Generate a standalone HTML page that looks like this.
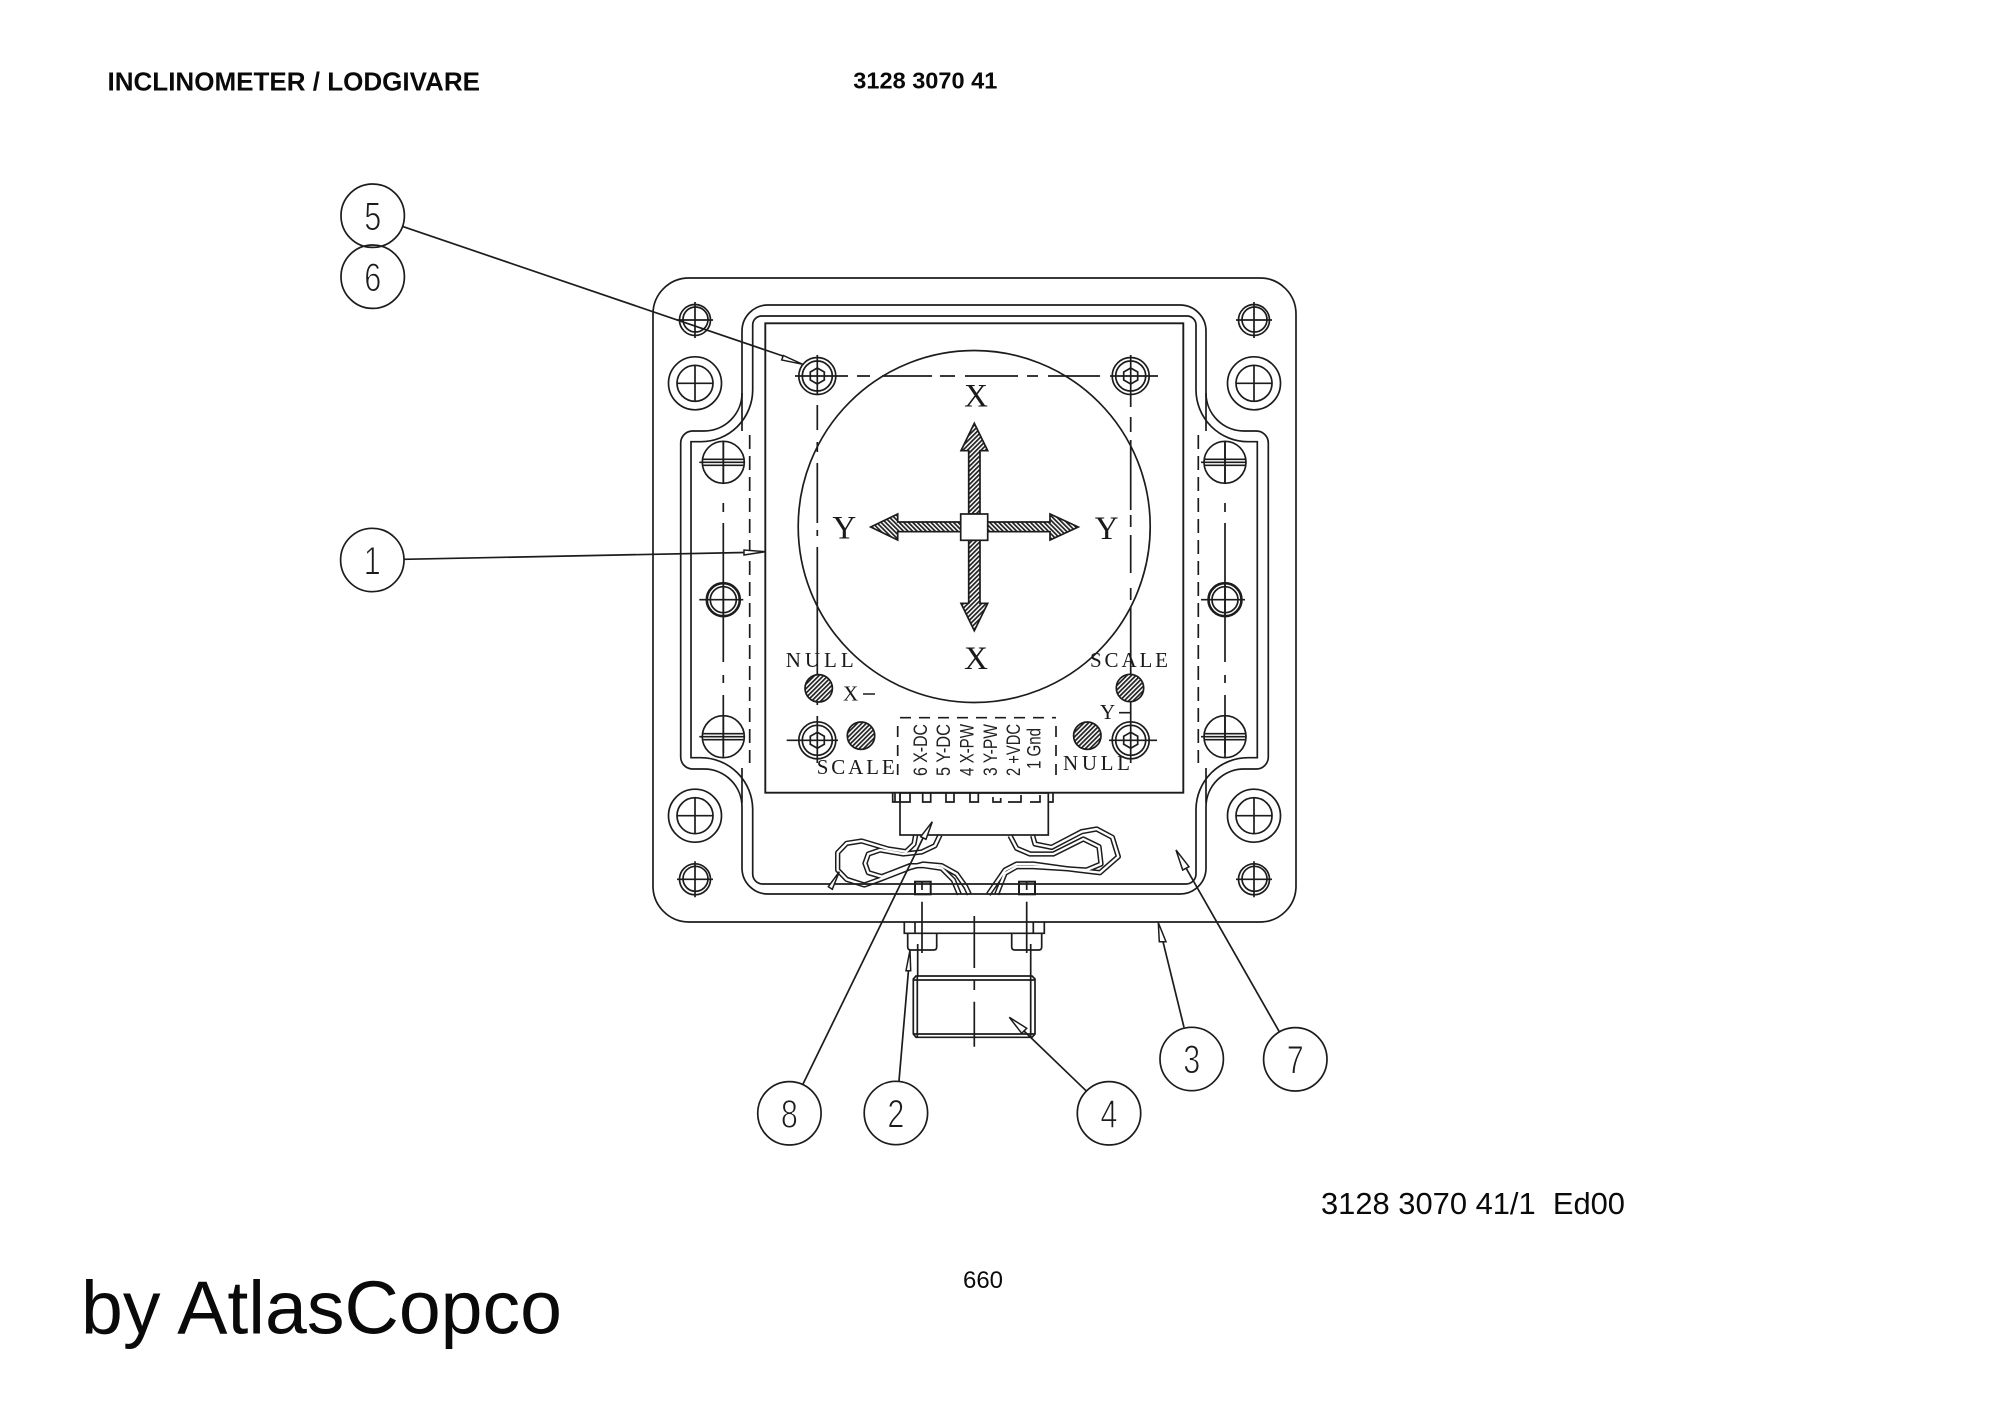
<!DOCTYPE html>
<html><head><meta charset="utf-8"><title>Inclinometer</title>
<style>html,body{margin:0;padding:0;background:#fff}svg{display:block}</style></head>
<body>
<svg xmlns="http://www.w3.org/2000/svg" width="2000" height="1414" viewBox="0 0 2000 1414">
<defs>
<pattern id="h1" width="3.2" height="3.2" patternUnits="userSpaceOnUse" patternTransform="rotate(45)"><rect width="3.2" height="3.2" fill="#fff"/><rect width="1.7" height="3.2" fill="#222"/></pattern>
<pattern id="h2" width="3.2" height="3.2" patternUnits="userSpaceOnUse" patternTransform="rotate(-45)"><rect width="3.2" height="3.2" fill="#fff"/><rect width="1.7" height="3.2" fill="#222"/></pattern>
<g id="small"><circle r="15.5"/><circle r="12.5" cx=".5" cy="-.5"/><path d="M-18 0H18M0-18V18"/></g>
<g id="washer"><circle r="26.5"/><circle r="18"/><path d="M-18 0H18M0-18V18"/></g>
<g id="slot"><circle r="21"/><path d="M0-21V21M-24 0H21M-20-3H20M-20 3H20"/></g>
<g id="ring"><circle r="16.5" stroke-width="2.6"/><circle r="13"/><path d="M-24 0H20M0-17V17"/></g>
<g id="hex"><circle r="18.5"/><circle r="15"/><path d="M0-8L7-4V4L0 8L-7 4V-4Z"/></g>
</defs>
<rect width="2000" height="1414" fill="#fff"/>

<g font-family="'Liberation Sans',sans-serif" fill="#0a0a0a">
<text x="107.5" y="90.7" font-size="26" font-weight="700" textLength="372.5" lengthAdjust="spacingAndGlyphs">INCLINOMETER / LODGIVARE</text>
<text x="853.3" y="88.3" font-size="23" font-weight="700" textLength="144" lengthAdjust="spacingAndGlyphs">3128 3070 41</text>
<text x="1321" y="1214" font-size="31" xml:space="preserve" textLength="304" lengthAdjust="spacingAndGlyphs">3128 3070 41/1  Ed00</text>
<text x="963" y="1288" font-size="24" textLength="40" lengthAdjust="spacingAndGlyphs">660</text>
<text x="81" y="1333.3" font-size="75" textLength="481" lengthAdjust="spacingAndGlyphs">by AtlasCopco</text>
</g>

<!-- wires -->
<g fill="none" stroke-linejoin="round">
<g transform="translate(800 700) scale(.33333)">
<g stroke="#1c1c1c" stroke-width="16">
<polyline points="347,405 342,432 318,455 265,447 185,423 140,430 113,458 113,510 140,538 193,555 240,538 330,503 370,492 425,497 470,522 497,560 508,583"/>
<polyline points="420,405 405,437 365,456 310,462 240,450 205,462 195,490 205,518 245,530 330,497 370,497 425,505 460,540 478,583"/>
</g>
<g stroke="#fff" stroke-width="7">
<polyline points="347,405 342,432 318,455 265,447 185,423 140,430 113,458 113,510 140,538 193,555 240,538 330,503 370,492 425,497 470,522 497,560 508,583"/>
<polyline points="420,405 405,437 365,456 310,462 240,450 205,462 195,490 205,518 245,530 330,497 370,497 425,505 460,540 478,583"/>
</g>
</g>
<g transform="translate(1000 640) scale(.33333)">
<g stroke="#1c1c1c" stroke-width="16">
<polyline points="30,587 50,625 90,642 160,642 250,597 297,620 303,672 260,690 100,680 50,680 15,700 -10,763"/>
<polyline points="98,587 105,612 155,622 245,575 290,567 337,592 355,650 300,698 230,690 100,672 50,672 15,690 -35,763"/>
</g>
<g stroke="#fff" stroke-width="7">
<polyline points="30,587 50,625 90,642 160,642 250,597 297,620 303,672 260,690 100,680 50,680 15,700 -10,763"/>
<polyline points="98,587 105,612 155,622 245,575 290,567 337,592 355,650 300,698 230,690 100,672 50,672 15,690 -35,763"/>
</g>
</g>
</g>

<g fill="none" stroke="#1c1c1c" stroke-width="1.7">
<!-- outer body -->
<rect x="653" y="278" width="643" height="644" rx="36"/>
<path d="M768,305H1180A26,26 0 0 1 1206,331V393A38,38 0 0 0 1244,431H1256A12,12 0 0 1 1268.3,443V757A12,12 0 0 1 1256,769H1244A38,38 0 0 0 1206,807V868A26,26 0 0 1 1180,894H768A26,26 0 0 1 742,868V807A38,38 0 0 0 704,769H692A12,12 0 0 1 680.7,757V443A12,12 0 0 1 692,431H704A38,38 0 0 0 742,393V331A26,26 0 0 1 768,305Z"/>
<path d="M762,316H1187A9,9 0 0 1 1196,325V390A52,52 0 0 0 1248,441.7H1257.3V757.7H1248A52,52 0 0 0 1196,809V874A10,10 0 0 1 1186,884H762A10,10 0 0 1 752.7,874V809A52,52 0 0 0 701,757.7H691V441.7H701A52,52 0 0 0 752.7,390V325A9,9 0 0 1 762,316Z"/>
<path d="M742,393V431M1206,393V431M742,768V803M1206,768V803"/>
<!-- PCB -->
<rect x="765.3" y="323.3" width="418" height="469.4" stroke-width="1.9"/>
<circle cx="974.2" cy="526.5" r="176"/>

<!-- center lines -->
<path d="M795,376H848M857,376H870M882,376H932M940,376H955M965,376H1018M1027,376H1038M1048,376H1100M1110,376H1158"/>
<path d="M817.3,355V395M817.3,405V430M817.3,442V452M817.3,463V523M817.3,530V536M817.3,547V705M817.3,716V763"/>
<path d="M1130.7,355V407M1130.7,417V432M1130.7,440V510M1130.7,515V527M1130.7,535V573M1130.7,588V600M1130.7,607V763"/>
<path d="M723.3,441V483M723.3,503V512M723.3,523V622M723.3,622V662M723.3,675V683M723.3,695V753"/>
<path d="M1225,441V483M1225,503V512M1225,523V622M1225,622V662M1225,675V683M1225,695V753"/>
<path d="M749.7,435V763M1198.3,435V763" stroke-dasharray="14 7"/>
<path d="M786.7,740.3H838M1109,740.3H1157"/>

<!-- fasteners -->
<use href="#small" x="695" y="320"/><use href="#small" x="1254" y="320"/>
<use href="#small" x="695" y="879.3"/><use href="#small" x="1254" y="879.3"/>
<use href="#washer" x="695" y="383.3"/><use href="#washer" x="1254" y="383.3"/>
<use href="#washer" x="695" y="815.7"/><use href="#washer" x="1254" y="815.7"/>
<use href="#slot" x="723.3" y="462.3"/><use href="#slot" x="1225" y="462.3"/>
<use href="#slot" x="723.3" y="736.7"/><use href="#slot" x="1225" y="736.7"/>
<use href="#ring" x="723.3" y="599.7"/><use href="#ring" x="1225" y="599.7"/>
<use href="#hex" x="817.3" y="376"/><use href="#hex" x="1130.7" y="376"/>
<use href="#hex" x="817.3" y="740.3"/><use href="#hex" x="1130.7" y="740.3"/>

<!-- connector -->
<rect x="900" y="793" width="148.3" height="42"/>
<path d="M892.7,793V802H910V793M895,793V802M900,793V802M922.7,793V802H930.7V793M946,793V802H954V793M970,793V802H978.3V793M993,797V802H1000.7V798M1008,802H1021V795M1030,802H1040V795M1048,802H1053V793"/>
<path d="M900,717.7H1056M897.7,726V780M1056,726V783" stroke-dasharray="11 8"/>

<!-- ports -->
<rect x="915" y="881.7" width="15.7" height="12.6" stroke-width="2"/>
<rect x="1019" y="881.7" width="16" height="12.6" stroke-width="2"/>
<path d="M922,881.7V890M1026.7,881.7V890"/>
<path d="M922,901.7V953M1026.7,901.7V953"/>
<path d="M974.3,916V968M974.3,980V990M974.3,1001.7V1046.7"/>

<!-- flange & fitting -->
<path d="M904.3,922V933.3H1044.3V922M915,922V933.3M1033.3,922V933.3"/>
<path d="M907.7,933.3V947Q907.7,950 911,950H933.7Q936.7,950 936.7,947V933.3"/>
<path d="M1011.7,933.3V947Q1011.7,950 1015,950H1038.7Q1041.7,950 1041.7,947V933.3"/>
<path d="M917.7,944V976M1030.7,944V976"/>
<path d="M916,976H1032L1035,979V1034L1032,1037.3H916L913.3,1034V979Z"/>
<path d="M917.3,976V1037.3M1030.7,976V1037.3M913.3,980H1035M913.3,1034H1035"/>
</g>

<!-- large arrows -->
<g stroke="#1c1c1c" stroke-width="1.7">
<path d="M974.3,423.3L987.7,450.7H980V514H968.7V450.7H961Z" fill="url(#h1)"/>
<path d="M974.3,630.7L987.7,603.3H980V540H968.7V603.3H961Z" fill="url(#h1)"/>
<path d="M870.7,527L897.7,514V522H961V531.7H897.7V540Z" fill="url(#h2)"/>
<path d="M1078.3,527L1050,514V522H987.7V531.7H1050V540Z" fill="url(#h2)"/>
<rect x="960.7" y="514" width="27" height="26.3" fill="#fff"/>
<circle cx="818.7" cy="688.3" r="13.7" fill="url(#h1)"/>
<circle cx="861" cy="735.7" r="13.7" fill="url(#h1)"/>
<circle cx="1130" cy="688" r="13.7" fill="url(#h1)"/>
<circle cx="1087.3" cy="735.7" r="13.7" fill="url(#h1)"/>
</g>

<!-- callouts -->
<g fill="none" stroke="#1c1c1c" stroke-width="1.7">
<circle cx="372.7" cy="215.7" r="31.7"/>
<circle cx="372.7" cy="276.7" r="31.7"/>
<circle cx="372.3" cy="560" r="31.7"/>
<circle cx="789.4" cy="1113.3" r="31.7"/>
<circle cx="895.9" cy="1113" r="31.7"/>
<circle cx="1109" cy="1113.3" r="31.7"/>
<circle cx="1191.7" cy="1059" r="31.7"/>
<circle cx="1295.3" cy="1059.3" r="31.7"/>
<path d="M403.3,226.7L783,356"/>
<path d="M404,559.3L744,552.5"/>
<path d="M923,838L803,1084"/>
<path d="M908.5,970L899,1081"/>
<path d="M1024,1031L1086,1090.7"/>
<path d="M1163,941.7L1184,1027.3"/>
<path d="M1186,868L1279.3,1031.7"/>
</g>
<g fill="#fff" stroke="#1c1c1c" stroke-width="1.5">
<polygon points="802.7,364.3 783.3,355.5 781.7,360"/>
<polygon points="765.3,551.7 744,550 744,555"/>
<polygon points="932.3,821.7 920.7,836.7 926,839.3"/>
<polygon points="910,950 906,970.7 910.7,970.7"/>
<polygon points="1009.3,1017.3 1026.7,1028.3 1021.7,1033.3"/>
<polygon points="1158.3,922.7 1159.3,941.7 1166,941.7"/>
<polygon points="1176,850 1182.7,870 1189,866.7"/>
<polygon points="839.3,871.7 828.3,886.7 832.3,889.3"/>
</g>

<!-- serif labels -->
<g font-family="'Liberation Serif',serif" fill="#1a1a1a">
<text x="976" y="406.7" font-size="33" text-anchor="middle">X</text>
<text x="976" y="669" font-size="33" text-anchor="middle">X</text>
<text x="844.3" y="538.7" font-size="33" text-anchor="middle">Y</text>
<text x="1106.7" y="539" font-size="33" text-anchor="middle">Y</text>
<text x="785.7" y="667" font-size="21" textLength="68">NULL</text>
<text x="1090" y="667" font-size="21" textLength="78">SCALE</text>
<text x="816.7" y="774" font-size="21" textLength="78">SCALE</text>
<text x="1063" y="770" font-size="21" textLength="67">NULL</text>
<text x="843" y="700.7" font-size="21">X</text>
<text x="1100" y="719" font-size="21">Y</text>
</g>
<path d="M863,694H875M1119,712.7H1130" stroke="#1c1c1c" stroke-width="1.6"/>

<!-- connector labels -->
<g font-family="'Liberation Sans',sans-serif" font-size="19" fill="#222">
<text transform="translate(927 776) rotate(-90)" textLength="52" lengthAdjust="spacingAndGlyphs">6 X-DC</text>
<text transform="translate(950 776) rotate(-90)" textLength="52" lengthAdjust="spacingAndGlyphs">5 Y-DC</text>
<text transform="translate(973.3 776) rotate(-90)" textLength="52" lengthAdjust="spacingAndGlyphs">4 X-PW</text>
<text transform="translate(997 776) rotate(-90)" textLength="52" lengthAdjust="spacingAndGlyphs">3 Y-PW</text>
<text transform="translate(1020 776) rotate(-90)" textLength="52" lengthAdjust="spacingAndGlyphs">2 +VDC</text>
<text transform="translate(1040.7 769) rotate(-90)" textLength="41" lengthAdjust="spacingAndGlyphs">1 Gnd</text>
</g>

<!-- callout numbers -->
<g font-family="'Liberation Sans',sans-serif" font-size="40" fill="#1c1c1c" stroke="#fff" stroke-width="1">
<text x="364.2" y="230" textLength="17" lengthAdjust="spacingAndGlyphs">5</text>
<text x="364.2" y="291" textLength="17" lengthAdjust="spacingAndGlyphs">6</text>
<text x="363.8" y="574.5" textLength="17" lengthAdjust="spacingAndGlyphs">1</text>
<text x="780.9" y="1127.5" textLength="17" lengthAdjust="spacingAndGlyphs">8</text>
<text x="887.4" y="1127.5" textLength="17" lengthAdjust="spacingAndGlyphs">2</text>
<text x="1100.5" y="1127.5" textLength="17" lengthAdjust="spacingAndGlyphs">4</text>
<text x="1183.2" y="1073" textLength="17" lengthAdjust="spacingAndGlyphs">3</text>
<text x="1286.8" y="1073.5" textLength="17" lengthAdjust="spacingAndGlyphs">7</text>
</g>
</svg>
</body></html>
